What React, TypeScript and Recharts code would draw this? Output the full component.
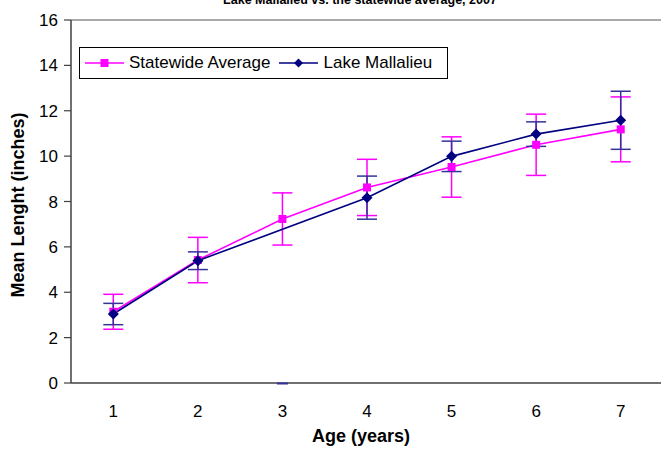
import React from 'react';
import { LineChart, Line, XAxis, YAxis, ErrorBar, ReferenceLine, Legend } from 'recharts';

const ages = [1, 2, 3, 4, 5, 6, 7];
const bandEdges = [0.5, 1.5, 2.5, 3.5, 4.5, 5.5, 6.5, 7.5];
const yTicks = [0, 2, 4, 6, 8, 10, 12, 14, 16];

const statewideMean = [3.14, 5.42, 7.23, 8.62, 9.52, 10.5, 11.18];
const statewideErr = [0.77, 1.0, 1.15, 1.24, 1.33, 1.35, 1.43];
const lakeMean = [3.04, 5.39, null, 8.17, 9.99, 10.97, 11.58];
const lakeErr = [0.47, 0.39, null, 0.95, 0.67, 0.54, 1.28];
// Excel drew the blank age-3 cell's error bar cap on the axis (value 0)
const lakeBlankCap = [null, null, 0, null, null, null, null];
const legendOrder = ['sw', 'lake'];

const SW = '#FF00FF';
const LK = '#000080';
const LK_ERR = '#333399';
const AXIS = '#404040';
const FONT = '"Liberation Sans", Arial, sans-serif';

const data = ages.map((a, i) => ({
  age: a,
  sw: statewideMean[i],
  swErr: statewideErr[i],
  lake: lakeMean[i],
  lakeErr: lakeErr[i],
  blank: lakeBlankCap[i],
}));

const SquareDot = (p: any) => {
  const { cx, cy, index } = p;
  if (cx == null || cy == null) return <g key={`s${index}`} />;
  return <rect key={`s${index}`} x={cx - 4} y={cy - 4} width={8} height={8} fill={SW} />;
};

const DiamondDot = (p: any) => {
  const { cx, cy, index } = p;
  if (cx == null || cy == null) return <g key={`d${index}`} />;
  return (
    <path
      key={`d${index}`}
      d={`M${cx},${cy - 5.5}L${cx + 5.5},${cy}L${cx},${cy + 5.5}L${cx - 5.5},${cy}Z`}
      fill={LK}
    />
  );
};

const CapDot = (p: any) => {
  const { cx, cy, index } = p;
  if (cx == null || cy == null) return <g key={`c${index}`} />;
  return <line key={`c${index}`} x1={cx - 5.5} x2={cx + 5.5} y1={cy + 0.5} y2={cy + 0.5} stroke={LK_ERR} strokeWidth={2} />;
};

const renderLegend = (props: any) => {
  const items = legendOrder
    .map((k) => (props.payload || []).find((e: any) => e.dataKey === k))
    .filter(Boolean);
  return (
    <div
      style={{
        boxSizing: 'border-box',
        width: 369,
        height: 32,
        border: '1px solid #000',
        background: '#fff',
        display: 'flex',
        alignItems: 'center',
        paddingLeft: 5,
        fontFamily: FONT,
        fontSize: 17,
        color: '#000',
        whiteSpace: 'nowrap',
      }}
    >
      {items.map((e: any, i: number) => (
        <div key={e.dataKey} style={{ display: 'flex', alignItems: 'center', marginRight: i === 0 ? 9 : 0 }}>
          <svg width={39} height={12} style={{ marginRight: 5, display: 'block' }}>
            <line x1={0} x2={39} y1={6} y2={6} stroke={e.dataKey === 'sw' ? SW : LK} strokeWidth={1.5} />
            {e.dataKey === 'sw' ? (
              <rect x={15.5} y={2} width={8} height={8} fill={SW} />
            ) : (
              <path d="M19.5,1.5L24,6L19.5,10.5L15,6Z" fill={LK} />
            )}
          </svg>
          <span>{e.value}</span>
        </div>
      ))}
    </div>
  );
};

export default function App() {
  return (
    <div style={{ position: 'relative', width: 661, height: 450, overflow: 'hidden', background: '#fff' }}>
      <style>{`body{margin:0;overflow:hidden;background:#fff}`}</style>
      <LineChart
        width={670}
        height={450}
        data={data}
        margin={{ top: 20, right: 7, bottom: 36, left: 0 }}
        style={{ fontFamily: FONT }}
      >
        <text x={360} y={4} textAnchor="middle" fontFamily={FONT} fontSize={12.5} fontWeight="bold" fill="#000">
          Lake Mallalieu vs. the statewide average, 2007
        </text>
        <XAxis
          xAxisId="edge"
          dataKey="age"
          type="number"
          domain={[0.5, 7.5]}
          ticks={bandEdges}
          interval={0}
          height={1}
          tickSize={6}
          tick={false}
          axisLine={{ stroke: AXIS, strokeWidth: 1.5 }}
          tickLine={{ stroke: AXIS, strokeWidth: 1.2 }}
        />
        <XAxis
          xAxisId="lab"
          dataKey="age"
          type="number"
          domain={[0.5, 7.5]}
          ticks={ages}
          interval={0}
          height={30}
          tickSize={0}
          tickMargin={21}
          axisLine={false}
          tickLine={false}
          tick={{ fill: '#000', fontSize: 17, fontFamily: FONT }}
          label={{
            content: () => (
              <text x={361} y={441.5} textAnchor="middle" fontFamily={FONT} fontSize={18} fontWeight="bold" fill="#000">
                Age (years)
              </text>
            ),
          }}
        />
        <YAxis
          domain={[0, 16]}
          ticks={yTicks}
          interval={0}
          width={71}
          tickSize={7}
          tickMargin={6}
          axisLine={{ stroke: AXIS, strokeWidth: 1.5 }}
          tickLine={{ stroke: AXIS, strokeWidth: 1.2 }}
          tick={{ fill: '#000', fontSize: 17, fontFamily: FONT }}
          label={{
            content: () => (
              <text
                x={24}
                y={205}
                transform="rotate(-90 24 205)"
                textAnchor="middle"
                fontFamily={FONT}
                fontSize={18}
                fontWeight="bold"
                fill="#000"
              >
                Mean Lenght (inches)
              </text>
            ),
          }}
        />
        <ReferenceLine xAxisId="lab" y={16} stroke="#8c8c8c" strokeWidth={1.5} />
        <Legend
          content={renderLegend}
          layout="horizontal"
          verticalAlign="middle"
          align="center"
          wrapperStyle={{ position: 'absolute', left: 79, top: 47, width: 369, height: 32 }}
        />
        <Line
          xAxisId="lab"
          dataKey="sw"
          name="Statewide Average"
          stroke={SW}
          strokeWidth={1.6}
          dot={SquareDot}
          activeDot={false}
          isAnimationActive={false}
        >
          <ErrorBar dataKey="swErr" direction="y" width={10} stroke={SW} strokeWidth={1.5} />
        </Line>
        <Line
          xAxisId="lab"
          dataKey="blank"
          name="blank"
          legendType="none"
          stroke="none"
          dot={CapDot}
          activeDot={false}
          isAnimationActive={false}
        />
        <Line
          xAxisId="lab"
          dataKey="lake"
          name="Lake Mallalieu"
          stroke={LK}
          strokeWidth={1.6}
          connectNulls
          dot={DiamondDot}
          activeDot={false}
          isAnimationActive={false}
        >
          <ErrorBar dataKey="lakeErr" direction="y" width={10} stroke={LK_ERR} strokeWidth={1.5} />
        </Line>
      </LineChart>
    </div>
  );
}
